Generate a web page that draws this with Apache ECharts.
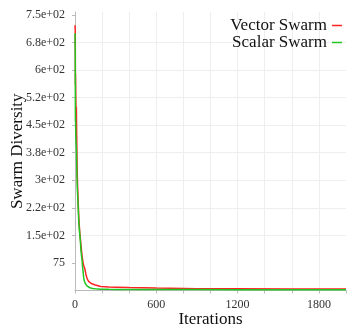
<!DOCTYPE html>
<html>
<head>
<meta charset="utf-8">
<script src="https://cdn.jsdelivr.net/npm/echarts@6/dist/echarts.min.js"></script>
<style>
  html, body { margin: 0; padding: 0; background: #fff; }
  #chart { width: 347px; height: 325px; }
</style>
</head>
<body>
<div id="chart"></div>
<script>
const iterations = [0, 2, 3, 4, 6, 8, 10, 12, 14, 16, 18, 20, 24, 28, 32, 36, 40, 44, 48, 52, 56, 60, 64, 68, 72, 76, 80, 85, 90, 96, 100, 110, 120, 130, 150, 160, 190, 200, 250, 300, 400, 600, 900, 1200, 1600, 2000]
const vectorSwarm = [722, 705, 560, 590, 520, 480, 500, 430, 380, 330, 300, 275, 235, 200, 175, 155, 140, 125, 108, 95, 85, 75, 68, 72, 60, 55, 45, 38, 32, 27, 25, 22, 19, 17, 15, 14, 11, 11, 9.5, 9, 8, 6.5, 5, 4.5, 4, 4]
const scalarSwarm = [700, 640, 460, 470, 420, 400, 390, 350, 320, 290, 270, 255, 220, 185, 165, 150, 132, 110, 95, 83, 65, 50, 35, 27, 22, 19, 17, 14, 12, 10, 9, 7.5, 6, 5.5, 4.5, 4, 3.6, 3.5, 3.2, 3, 2.8, 2.5, 2.4, 2.3, 2.2, 2.2]

const yTickValues = [75, 150, 225, 300, 375, 450, 525, 600, 675, 750]
const yTickLabels = ['75', '1.5e+02', '2.2e+02', '3e+02', '3.8e+02', '4.5e+02', '5.2e+02', '6e+02', '6.8e+02', '7.5e+02']
const xTickValues = [0, 200, 400, 600, 800, 1000, 1200, 1400, 1600, 1800, 2000]
const xLabelValues = [0, 600, 1200, 1800]

const font = 'Liberation Serif'

const chart = echarts.init(document.getElementById('chart'))

const option = {
  animation: false,
  textStyle: { fontFamily: font },
  grid: {
    left: 75,
    right: 1,
    top: 12,
    bottom: 34.5,
    containLabel: false,
    outerBoundsMode: 'none'
  },
  legend: {
    orient: 'vertical',
    right: 0,
    top: 12,
    align: 'right',
    icon: 'rect',
    itemWidth: 10,
    itemHeight: 1.5,
    itemGap: 0,
    itemTextGap: 5,
    textStyle: {
      fontFamily: font,
      fontSize: 17,
      color: '#111',
      lineHeight: 17
    },
    data: ['Vector Swarm', 'Scalar Swarm']
  },
  xAxis: {
    type: 'value',
    min: 0,
    max: 2000,
    interval: 600,
    offset: 2,
    name: 'Iterations',
    nameLocation: 'middle',
    nameGap: 19,
    nameMoveOverlap: false,
    nameTextStyle: { fontFamily: font, fontSize: 17, color: '#111', verticalAlign: 'top' },
    axisLine: { show: true, lineStyle: { color: '#bbb' } },
    axisTick: { show: true, length: 3, lineStyle: { color: '#bbb' }, customValues: xTickValues },
    axisLabel: {
      fontFamily: font,
      fontSize: 12,
      color: '#333',
      margin: 6,
      customValues: xLabelValues,
      formatter: (v) => String(v)
    },
    splitLine: { show: true, showMinLine: false, showMaxLine: false, lineStyle: { color: '#eee' } }
  },
  yAxis: {
    type: 'value',
    min: 0,
    max: 758,
    interval: 75,
    offset: 3,
    name: 'Swarm Diversity',
    nameLocation: 'middle',
    nameGap: 46,
    nameMoveOverlap: false,
    nameTextStyle: { fontFamily: font, fontSize: 17, color: '#111' },
    axisLine: { show: true, lineStyle: { color: '#bbb' } },
    axisTick: { show: true, length: 3, lineStyle: { color: '#bbb' }, customValues: yTickValues },
    axisLabel: {
      fontFamily: font,
      fontSize: 12,
      color: '#333',
      margin: 7,
      customValues: yTickValues,
      formatter: (v) => {
        const i = yTickValues.indexOf(v)
        return i >= 0 ? yTickLabels[i] : ''
      }
    },
    splitLine: { show: true, showMinLine: false, showMaxLine: false, lineStyle: { color: '#eee' } }
  },
  series: [
    {
      name: 'Vector Swarm',
      type: 'line',
      showSymbol: false,
      symbol: 'none',
      color: '#ff2222',
      lineStyle: { width: 1.5 },
      data: iterations.map((x, i) => [x, vectorSwarm[i]])
    },
    {
      name: 'Scalar Swarm',
      type: 'line',
      showSymbol: false,
      symbol: 'none',
      color: '#22c522',
      lineStyle: { width: 1.5 },
      data: iterations.map((x, i) => [x, scalarSwarm[i]])
    }
  ]
}

chart.setOption(option)
</script>
</body>
</html>
